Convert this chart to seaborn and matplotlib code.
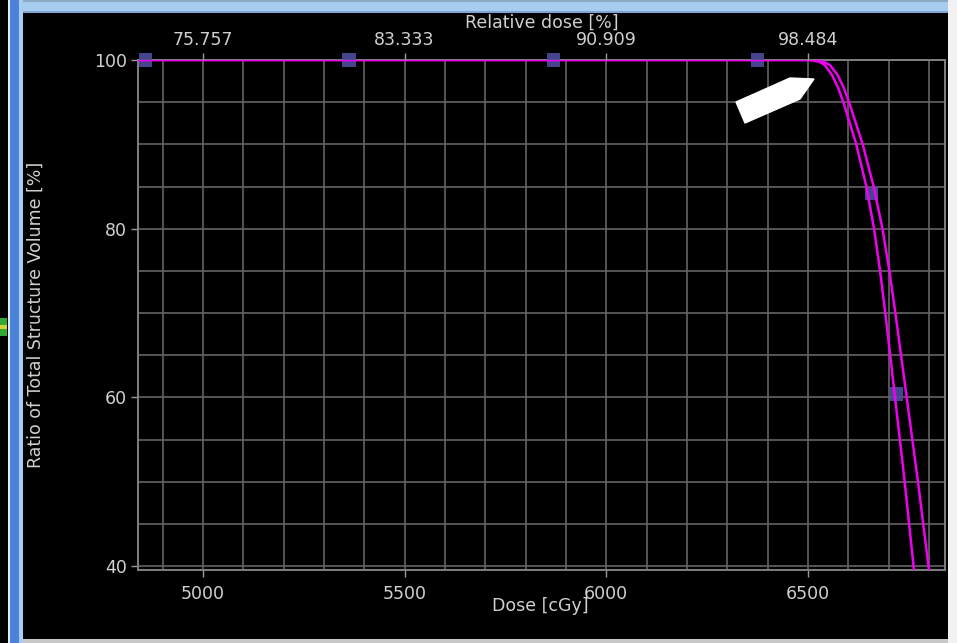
import matplotlib
matplotlib.use("Agg")
import matplotlib.pyplot as plt
from matplotlib.patches import Rectangle, Polygon
from matplotlib.ticker import MultipleLocator
import pandas as pd
import seaborn as sns

# Cumulative DVH: volume levels shared by both curves [%]
volume_pct = [100, 100, 99.8, 99.4, 98.2, 96.7, 95, 90, 85, 80, 75, 70, 65, 60, 55, 50,
              45, 40, 38]
# Dose reached at each volume level [cGy]
dose_plan_a = [4800, 6505, 6528, 6542, 6560, 6575, 6588, 6620, 6645, 6664, 6679, 6692,
               6704, 6716, 6728, 6740, 6751, 6762, 6766]
dose_plan_b = [4800, 6515, 6538, 6555, 6574, 6589, 6602, 6636, 6663, 6685, 6702, 6717,
               6731, 6745, 6759, 6773, 6786, 6799, 6804]

# Sampling markers on the curves
marker_dose = [4857, 5362, 5870, 6376, 6658, 6719]
marker_vol = [100, 100, 100, 100, 84.2, 60.4]

# Axis ticks
dose_ticks = [5000, 5500, 6000, 6500]
rel_dose_labels = ["75.757", "83.333", "90.909", "98.484"]
volume_ticks = [40, 60, 80, 100]

W, H = 957, 643
MAGENTA = "#f000f0"
GRID = "#636363"
FRAME = "#808080"
TEXT = "#d0d0d0"
FS = 12.5

sns.set_style("dark", {"axes.facecolor": "black", "figure.facecolor": "black"})
plt.rcParams["font.family"] = ["DejaVu Sans"]

fig = plt.figure(figsize=(W / 100, H / 100), dpi=100, facecolor="black")


def px_rect(x0, y0, x1, y1, color):
    """Rectangle given in pixel coordinates measured from the top-left corner."""
    fig.patches.append(Rectangle((x0 / W, 1 - y1 / H), (x1 - x0) / W, (y1 - y0) / H,
                                 transform=fig.transFigure, color=color, zorder=0,
                                 lw=0))


# Window frame around the plot
px_rect(20, 0, 950, 13, "#a6cdf0")
px_rect(20, 0, 950, 2, "#8aa7c4")
px_rect(20, 11, 950, 13, "#7fa6d2")
px_rect(8, 0, 10, 643, "#e4ecf6")
px_rect(10, 0, 19, 643, "#4a84d8")
px_rect(19, 0, 23, 643, "#a8cdf2")
px_rect(948, 0, 957, 643, "#f2f2f2")
px_rect(23, 639, 948, 643, "#c8c8c8")
px_rect(0, 318, 7, 336, "#34a834")
px_rect(0, 325, 7, 329, "#d4d43a")

ax_l, ax_r, ax_t, ax_b = 138, 945, 60, 570
ax = fig.add_axes([ax_l / W, 1 - ax_b / H, (ax_r - ax_l) / W, (ax_b - ax_t) / H])
ax.set_facecolor("black")

df = pd.concat([
    pd.DataFrame({"dose": dose_plan_a, "volume": volume_pct, "plan": "A"}),
    pd.DataFrame({"dose": dose_plan_b, "volume": volume_pct, "plan": "B"}),
])

sns.scatterplot(x=marker_dose, y=marker_vol, marker="s", s=90, color="#4d4d9e",
                edgecolor="none", alpha=0.9, ax=ax, zorder=3, clip_on=False)
sns.lineplot(data=df, x="dose", y="volume", hue="plan", palette=[MAGENTA, MAGENTA],
             sort=False, estimator=None, legend=False, lw=1.8, ax=ax, zorder=4)

ax.set_xlim(4839, 6840)
ax.set_ylim(39.53, 100)
ax.set_xticks(dose_ticks)
ax.set_yticks(volume_ticks)
ax.xaxis.set_minor_locator(MultipleLocator(100))
ax.yaxis.set_minor_locator(MultipleLocator(5))
ax.grid(which="both", color=GRID, lw=1.2)
ax.set_axisbelow(True)
ax.tick_params(which="minor", length=0)
ax.tick_params(which="major", length=5, width=1, color="#9a9a9a", labelcolor=TEXT,
               labelsize=FS, direction="out")
ax.tick_params(axis="x", pad=6, bottom=True)
ax.tick_params(axis="y", pad=3, left=True)
for s in ax.spines.values():
    s.set_color(FRAME)
    s.set_linewidth(1.4)

ax.set_xlabel("Dose [cGy]", color=TEXT, fontsize=FS)
ax.xaxis.set_label_coords(0.498, -0.0706)
ax.xaxis.label.set_va("center")
ax.set_ylabel("Ratio of Total Structure Volume [%]", color=TEXT, fontsize=FS)
ax.yaxis.set_label_coords(-0.1264, 0.5)
ax.yaxis.label.set_va("center")

# Relative dose scale along the top
ax_top = ax.twiny()
ax_top.set_xlim(ax.get_xlim())
ax_top.set_xticks(dose_ticks)
ax_top.set_xticklabels(rel_dose_labels)
ax_top.tick_params(length=5, width=1, color="#9a9a9a", labelcolor=TEXT, labelsize=FS,
                   pad=3, top=True)
ax_top.grid(False)
for s in ax_top.spines.values():
    s.set_visible(False)
ax_top.set_xlabel("Relative dose [%]", color=TEXT, fontsize=FS, labelpad=2)

# White pointer marking the shoulder of the curves
arrow_px = [(736, 102), (790, 78), (814, 79), (800, 99), (745, 123)]
fig.patches.append(Polygon([(x / W, 1 - y / H) for x, y in arrow_px], closed=True,
                           transform=fig.transFigure, facecolor="white",
                           edgecolor="white", zorder=10))

fig.savefig("out.png", dpi=100, facecolor="black")
